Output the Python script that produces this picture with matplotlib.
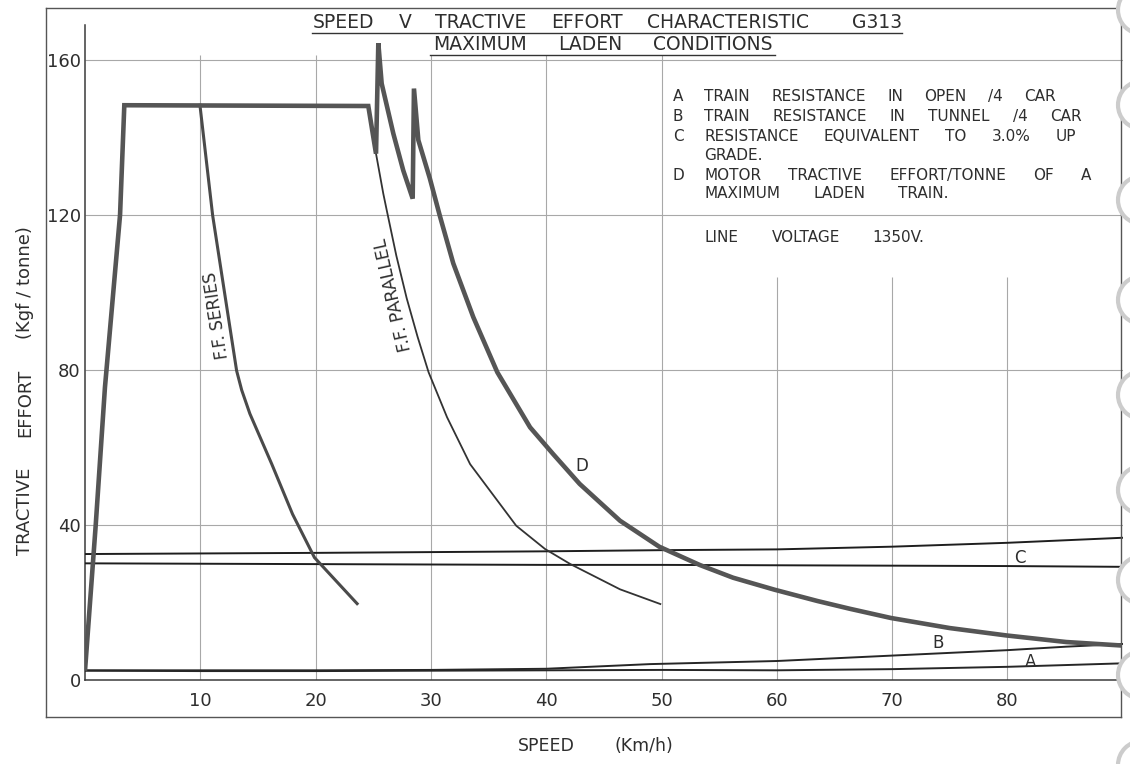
import matplotlib
matplotlib.use("Agg")
import matplotlib.pyplot as plt
from matplotlib.lines import Line2D
from matplotlib.patches import Ellipse

# ---------------- data ----------------
# D: motor tractive effort / tonne (maximum laden train)
speed_D = [0, 0.93, 1.73, 3.04, 3.41, 24.57, 25.24, 25.44, 25.73, 26.74, 27.6, 28.42,
           28.53, 28.91, 29.9, 30.8, 31.94, 33.68, 35.76, 38.6, 40.6, 42.9, 46.4,
           49.8, 53.3, 56.2, 59.8, 63.5, 66.3, 69.9, 75.0, 79.9, 85.1, 89.9]
effort_D = [2.4, 40, 75.5, 120, 148.3, 148.1, 135.8, 164.3, 153.9, 141.0, 131.5, 124.2,
            152.6, 139.3, 129.5, 119.5, 107.5, 93.6, 79.4, 65.2, 58.3, 50.6, 41.1,
            34.4, 29.7, 26.4, 23.3, 20.4, 18.4, 16.0, 13.4, 11.5, 9.8, 8.9]

# F.F. series curve
speed_ser = [9.97, 11.07, 12.1, 13.15, 13.59, 14.3, 16.2, 18.0, 19.9, 23.6]
effort_ser = [148.3, 119.9, 100.0, 79.8, 74.8, 68.7, 55.7, 42.8, 31.6, 19.7]

# F.F. parallel curve
speed_par = [25.24, 25.87, 26.17, 27.0, 27.9, 28.85, 29.8, 31.4, 33.4, 37.4, 39.9, 42.1, 46.4, 49.9]
effort_par = [135.8, 125.5, 121.2, 109.5, 98.5, 88.5, 79.4, 67.8, 55.7, 39.8, 33.8, 29.9, 23.4, 19.6]

# A: train resistance in open / 4 car
speed_A = [0, 10, 20, 30, 40, 50, 60, 70, 80, 90]
effort_A = [2.4, 2.3, 2.3, 2.4, 2.5, 2.6, 2.5, 2.8, 3.4, 4.3]

# B: train resistance in tunnel / 4 car
speed_B = [0, 10, 20, 30, 40, 49, 60, 70, 80, 85.1, 90]
effort_B = [2.5, 2.5, 2.5, 2.6, 2.9, 4.1, 4.9, 6.3, 7.7, 8.6, 9.3]

# C: resistance equivalent to 3.0 % up grade (two lines)
speed_C = [0, 20, 40, 50, 60, 70, 80, 90]
effort_C_upper = [32.5, 32.8, 33.2, 33.5, 33.7, 34.4, 35.4, 36.7]
effort_C_lower = [30.1, 29.9, 29.7, 29.7, 29.6, 29.5, 29.4, 29.2]

x_ticks = [10, 20, 30, 40, 50, 60, 70, 80]
y_ticks = [0, 40, 80, 120, 160]
grid_x_tall = [10, 20, 30, 40, 50]
grid_x_short = [60, 70, 80]
grid_y = [40, 80, 120, 160]

title_1 = ["SPEED", "V", "TRACTIVE", "EFFORT", "CHARACTERISTIC", "G313"]
title_2 = ["MAXIMUM", "LADEN", "CONDITIONS"]
legend_rows = [
    ("A", ["TRAIN", "RESISTANCE", "IN", "OPEN", "/4", "CAR"]),
    ("B", ["TRAIN", "RESISTANCE", "IN", "TUNNEL", "/4", "CAR"]),
    ("C", ["RESISTANCE", "EQUIVALENT", "TO", "3.0%", "UP"]),
    ("", ["GRADE."]),
    ("D", ["MOTOR", "TRACTIVE", "EFFORT/TONNE", "OF", "A"]),
    ("", ["MAXIMUM", "LADEN", "TRAIN."]),
]
voltage_words = ["LINE", "VOLTAGE", "1350V."]
ylabel_words = ["TRACTIVE", "EFFORT", "(Kgf / tonne)"]
xlabel_words = ["SPEED", "(Km/h)"]

# ---------------- figure ----------------
W, H = 1130, 764
TXT = "#2e2e2e"
plt.rcParams["font.family"] = ["DejaVu Sans"]
fig = plt.figure(figsize=(W / 100, H / 100), dpi=100)
fig.patch.set_facecolor("white")
renderer = fig.canvas.get_renderer()


def fx(x):
    return x / W


def fy(y):
    return 1 - y / H


def spread(words, x0, x1, yc, size, weights=None):
    ts = [fig.text(fx(x0), fy(yc), w, fontsize=size, color=TXT, ha="left", va="center")
          for w in words]
    if len(ts) == 1:
        return
    widths = [t.get_window_extent(renderer).width for t in ts]
    if weights is None:
        weights = [1] * (len(ts) - 1)
    unit = ((x1 - x0) - sum(widths)) / sum(weights)
    x = x0
    for i, t in enumerate(ts):
        t.set_x(fx(x))
        if i < len(ts) - 1:
            x += widths[i] + unit * weights[i]


def spread_v(words, y_bottom, y_top, xc, size):
    ts = [fig.text(fx(xc), fy(y_bottom), w, fontsize=size, color=TXT, rotation=90,
                   ha="center", va="bottom") for w in words]
    heights = [t.get_window_extent(renderer).height for t in ts]
    gap = ((y_bottom - y_top) - sum(heights)) / (len(ts) - 1)
    y = y_bottom
    for i, t in enumerate(ts):
        t.set_y(fy(y))
        y -= heights[i] + gap


def fline(xs, ys, **kw):
    fig.add_artist(Line2D([fx(v) for v in xs], [fy(v) for v in ys],
                          transform=fig.transFigure, **kw))


# axes: x 0..90 -> 85..1122.7 px ; y 0..169 -> 680..25 px
ax = fig.add_axes([fx(85), fy(680), 1037.7 / W, 655 / H])
ax.set_xlim(0, 90)
ax.set_ylim(0, 169)
ax.set_facecolor("none")

gcol = "#a8a8a8"
ax.vlines(grid_x_tall, 0, 161.3, colors=gcol, lw=0.8, zorder=1)
ax.vlines(grid_x_short, 0, 104, colors=gcol, lw=0.8, zorder=1)
ax.hlines(grid_y, 0, 90, colors=gcol, lw=0.8, zorder=1)

ax.plot(speed_A, effort_A, color="#262626", lw=1.4, zorder=3)
ax.plot(speed_B, effort_B, color="#262626", lw=1.4, zorder=3)
ax.plot(speed_C, effort_C_upper, color="#1e1e1e", lw=1.4, zorder=3)
ax.plot(speed_C, effort_C_lower, color="#1e1e1e", lw=1.4, zorder=3)
ax.plot(speed_par, effort_par, color="#333333", lw=1.3, zorder=4)
ax.plot(speed_ser, effort_ser, color="#4a4a4a", lw=2.2, zorder=4)
ax.plot(speed_D, effort_D, color="#555555", lw=3.3, zorder=5,
        solid_joinstyle="miter", solid_capstyle="butt")

# curve labels
ax.text(43.1, 55.3, "D", fontsize=12, color=TXT, ha="center", va="center")
ax.text(81.1, 31.4, "C", fontsize=12, color=TXT, ha="center", va="center")
ax.text(74.0, 9.5, "B", fontsize=12, color=TXT, ha="center", va="center")
ax.text(82.0, 4.6, "A", fontsize=12, color=TXT, ha="center", va="center")
ax.text(11.4, 94.0, "F.F. SERIES", fontsize=12, color=TXT, rotation=98.3,
        rotation_mode="anchor", ha="center", va="center")
ax.text(26.75, 99.5, "F.F. PARALLEL", fontsize=12.5, color=TXT, rotation=102.7,
        rotation_mode="anchor", ha="center", va="center")

ax.set_xticks(x_ticks)
ax.set_yticks(y_ticks)
ax.set_xticklabels([str(v) for v in x_ticks])
ax.set_yticklabels([str(v) for v in y_ticks])
ax.tick_params(axis="both", length=0, labelsize=13, labelcolor=TXT)
ax.tick_params(axis="x", pad=9)
ax.tick_params(axis="y", pad=3)
for s in ("top", "right"):
    ax.spines[s].set_visible(False)
for s in ("left", "bottom"):
    ax.spines[s].set_color("#3a3a3a")
    ax.spines[s].set_linewidth(1.1)

# outer frame
fcol = "#555555"
fline([46, 1121], [8, 8], color=fcol, lw=1.0)
fline([46, 46], [8, 717], color=fcol, lw=1.0)
fline([46, 1121], [717, 717], color=fcol, lw=1.0)
fline([1121, 1121], [8, 717], color=fcol, lw=1.0)

# title
spread(title_1, 313, 902, 22.5, 13.5, weights=[1, 1, 1, 1, 1.8])
spread(title_2, 433, 773, 44.5, 13.5)
fline([312, 902], [32.5, 32.5], color="#333333", lw=1.0)
fline([430, 775], [55, 55], color="#333333", lw=1.0)

# legend text
row_y = [96.7, 116.5, 136.7, 155.5, 175.5, 193.5]
row_end = [1056, 1082, 1076, None, 1091, 949]
for (letter, words), yc, xe in zip(legend_rows, row_y, row_end):
    if letter:
        fig.text(fx(678), fy(yc), letter, fontsize=11, color=TXT, ha="center", va="center")
    if xe is None:
        spread(words, 704, 704, yc, 11)
    else:
        spread(words, 704, xe, yc, 11)
spread(voltage_words, 705, 924, 237.5, 11)

# axis titles
spread_v(ylabel_words, 555, 226, 25, 13)
spread(xlabel_words, 518, 673, 746, 12.5, weights=[1])

# binder holes at the right edge
for cy in [10, 105, 200, 300, 395, 490, 580, 675, 765]:
    fig.add_artist(Ellipse((fx(1142), fy(cy)), 48 / W, 48 / H, transform=fig.transFigure,
                           facecolor="white", edgecolor="#cccccc", lw=3.0, zorder=20))

fig.savefig("out.png", dpi=100, facecolor="white")
